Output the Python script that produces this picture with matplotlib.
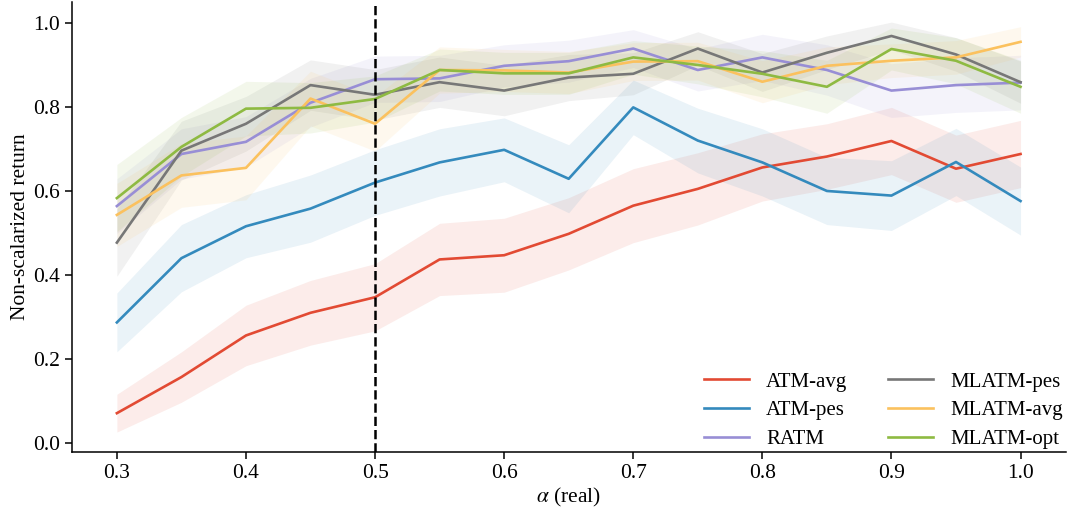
import numpy as np
import matplotlib
matplotlib.use("Agg")
import matplotlib.pyplot as plt

plt.rcParams["font.family"] = "serif"
plt.rcParams["font.serif"] = ["Liberation Serif", "DejaVu Serif"]
plt.rcParams["mathtext.fontset"] = "stix"

alpha = [0.30, 0.35, 0.40, 0.45, 0.50, 0.55, 0.60, 0.65, 0.70, 0.75, 0.80, 0.85, 0.90, 0.95, 1.00]

atm_avg = [0.071, 0.157, 0.256, 0.310, 0.347, 0.437, 0.447, 0.498, 0.565, 0.605, 0.656, 0.682, 0.719, 0.653, 0.688]
atm_avg_sd = [0.045, 0.060, 0.072, 0.077, 0.080, 0.086, 0.088, 0.086, 0.088, 0.086, 0.080, 0.078, 0.080, 0.080, 0.080]

atm_pes = [0.287, 0.440, 0.516, 0.558, 0.620, 0.668, 0.698, 0.629, 0.799, 0.720, 0.668, 0.600, 0.589, 0.669, 0.576]
atm_pes_sd = [0.070, 0.080, 0.075, 0.080, 0.078, 0.080, 0.076, 0.081, 0.065, 0.077, 0.080, 0.080, 0.083, 0.080, 0.081]

ratm = [0.564, 0.688, 0.717, 0.810, 0.866, 0.868, 0.898, 0.909, 0.939, 0.888, 0.918, 0.888, 0.839, 0.852, 0.858]
ratm_sd = [0.065, 0.060, 0.060, 0.058, 0.055, 0.055, 0.050, 0.050, 0.045, 0.050, 0.055, 0.060, 0.064, 0.065, 0.065]

mlatm_pes = [0.477, 0.696, 0.760, 0.852, 0.829, 0.859, 0.839, 0.870, 0.879, 0.939, 0.882, 0.929, 0.969, 0.925, 0.859]
mlatm_pes_sd = [0.080, 0.070, 0.065, 0.060, 0.060, 0.060, 0.060, 0.055, 0.050, 0.040, 0.045, 0.040, 0.033, 0.040, 0.050]

mlatm_avg = [0.543, 0.637, 0.655, 0.820, 0.760, 0.888, 0.887, 0.882, 0.908, 0.909, 0.860, 0.898, 0.910, 0.918, 0.955]
mlatm_avg_sd = [0.075, 0.076, 0.076, 0.065, 0.065, 0.055, 0.050, 0.050, 0.045, 0.045, 0.050, 0.045, 0.040, 0.040, 0.036]

mlatm_opt = [0.583, 0.705, 0.796, 0.798, 0.819, 0.888, 0.880, 0.880, 0.918, 0.900, 0.879, 0.848, 0.938, 0.910, 0.848]
mlatm_opt_sd = [0.080, 0.070, 0.065, 0.060, 0.055, 0.050, 0.050, 0.050, 0.040, 0.045, 0.055, 0.063, 0.050, 0.055, 0.063]

series = [
    ("ATM-avg", atm_avg, atm_avg_sd, "#E24A33"),
    ("ATM-pes", atm_pes, atm_pes_sd, "#348ABD"),
    ("RATM", ratm, ratm_sd, "#988ED5"),
    ("MLATM-pes", mlatm_pes, mlatm_pes_sd, "#777777"),
    ("MLATM-avg", mlatm_avg, mlatm_avg_sd, "#FBC15E"),
    ("MLATM-opt", mlatm_opt, mlatm_opt_sd, "#8EBA42"),
]

fig = plt.figure(figsize=(10.7, 5.12), dpi=100)
ax = fig.add_axes([0.0670, 0.1172, 0.9290, 0.8790])

x = np.array(alpha)
for name, mean, sd, color in series:
    m = np.array(mean)
    s = np.array(sd)
    ax.fill_between(x, m - s, m + s, color=color, alpha=0.1, linewidth=0)
    ax.plot(x, m, color=color, linewidth=1.9, label=name)

ax.axvline(0.5, color="black", linestyle="--", linewidth=1.8)

ax.set_xlim(0.265, 1.035)
ax.set_ylim(-0.0214, 1.05)
ax.set_xticks([0.3, 0.4, 0.5, 0.6, 0.7, 0.8, 0.9, 1.0])
ax.set_yticks([0.0, 0.2, 0.4, 0.6, 0.8, 1.0])
ax.tick_params(labelsize=15.5, direction="out", length=5, width=1.1)
for side in ("top", "right"):
    ax.spines[side].set_visible(False)
for side in ("left", "bottom"):
    ax.spines[side].set_linewidth(1.1)

ax.set_xlabel(r"$\alpha$ (real)", fontsize=15.5, labelpad=2)
ax.set_ylabel("Non-scalarized return", fontsize=15.5, labelpad=2)

ax.legend(loc="lower right", bbox_to_anchor=(1.016, -0.036), ncol=2, frameon=False,
          fontsize=15, handlelength=2.16, handletextpad=0.82, columnspacing=1.95,
          labelspacing=0.45)

fig.savefig("out.png", dpi=100)
